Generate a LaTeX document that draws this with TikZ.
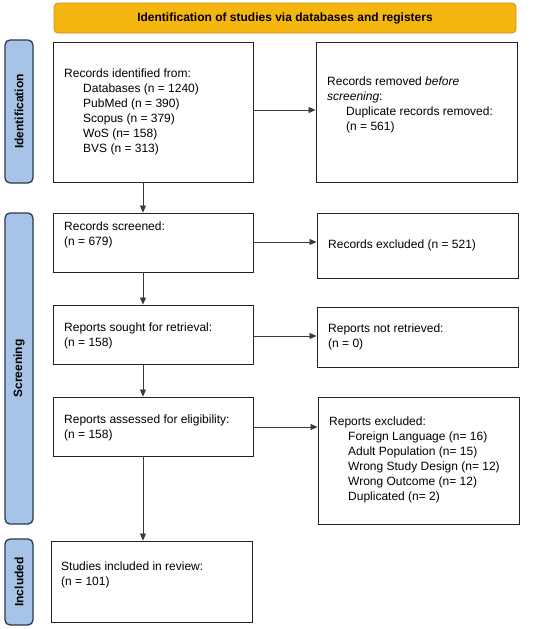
\documentclass[tikz,border=0pt]{standalone}
\usepackage{fontspec}
\setmainfont{Liberation Sans}
\usetikzlibrary{arrows.meta,calc}
\definecolor{bannerfill}{HTML}{F5B60F}
\definecolor{bannerline}{HTML}{C9961A}
\definecolor{sidefill}{HTML}{A7C3E8}
\definecolor{sideline}{HTML}{2B3A4D}
\definecolor{boxline}{HTML}{222222}
\definecolor{arrowline}{HTML}{3A3A3A}
\tikzset{
  banner/.style={draw=bannerline, fill=bannerfill, rounded corners=4pt, line width=0.8pt, inner sep=0pt},
  side/.style={draw=sideline, fill=sidefill, rounded corners=5pt, line width=1.3pt, inner sep=0pt},
  sidetext/.style={rotate=90, font=\fontsize{12}{14}\selectfont\bfseries, text=black},
  box/.style={draw=boxline, line width=0.9pt, inner sep=0pt},
  txt/.style={align=left, font=\fontsize{12}{15}\selectfont, inner sep=0pt, anchor=west, text=black},
  flow/.style={draw=arrowline, line width=0.8pt, -{Triangle[length=7pt,width=6pt]}}
}
\newcommand{\ind}{\hspace*{19pt}}
\begin{document}
\begin{tikzpicture}[x=1pt,y=-1pt]
\useasboundingbox[fill=white] (0,0) rectangle (550,629);
% banner
\node[banner, minimum width=462pt, minimum height=30pt] (ban) at (285,18) {};
\node[font=\fontsize{12}{14}\selectfont\bfseries, inner sep=0pt] (bantxt) at (ban.center) {Identification of studies via databases and registers};
% side bars
\node[side, minimum width=28pt, minimum height=143pt] (sid) at (19,111.5) {};
\node[sidetext] (sidt) at (sid.center) {Identification};
\node[side, minimum width=28pt, minimum height=311pt] (sscr) at (19,368.5) {};
\node[sidetext] (sscrt) at (sscr.center) {Screening};
\node[side, minimum width=28pt, minimum height=86pt] (sinc) at (19,582) {};
\node[sidetext] (sinct) at (sinc.center) {Included};
% left column boxes
\node[box, minimum width=200pt, minimum height=140pt] (b1) at (153,112) {};
\node[txt] (t1) at (64,112) {Records identified from:\\\ind Databases (n = 1240)\\\ind PubMed (n = 390)\\\ind Scopus (n = 379)\\\ind WoS (n= 158)\\\ind BVS (n = 313)};
\node[box, minimum width=200pt, minimum height=59pt] (b3) at (153,242.5) {};
\node[txt] (t3) at (64,234.5) {Records screened:\\(n = 679)};
\node[box, minimum width=200pt, minimum height=59pt] (b5) at (153,334.5) {};
\node[txt] (t5) at (64,335.5) {Reports sought for retrieval:\\(n = 158)};
\node[box, minimum width=200pt, minimum height=59pt] (b7) at (153,426.5) {};
\node[txt] (t7) at (64,427.5) {Reports assessed for eligibility:\\(n = 158)};
\node[box, minimum width=201pt, minimum height=81pt] (b9) at (151.5,581.5) {};
\node[txt] (t9) at (61,575) {Studies included in review:\\(n = 101)};
% right column boxes
\node[box, minimum width=201pt, minimum height=140pt] (b2) at (416.5,112) {};
\node[txt] (t2) at (327,104.5) {Records removed \textit{before}\\\textit{screening}:\\\ind Duplicate records removed:\\\ind (n = 561)};
\node[box, minimum width=201pt, minimum height=65pt] (b4) at (417.5,245.5) {};
\node[txt] (t4) at (328,245.5) {Records excluded (n = 521)};
\node[box, minimum width=201pt, minimum height=60pt] (b6) at (417.5,337) {};
\node[txt] (t6) at (328,336.5) {Reports not retrieved:\\(n = 0)};
\node[box, minimum width=201pt, minimum height=127pt] (b8) at (418.5,460.5) {};
\node[txt] (t8) at (329,460) {Reports excluded:\\\ind Foreign Language (n= 16)\\\ind Adult Population (n= 15)\\\ind Wrong Study Design (n= 12)\\\ind Wrong Outcome (n= 12)\\\ind Duplicated (n= 2)};
% connectors
\draw[flow] (b1.east |- 0,110) -- (b2.west |- 0,110);
\draw[flow] (b3.east |- 0,242) -- (b4.west |- 0,242);
\draw[flow] (b5.east |- 0,336) -- (b6.west |- 0,336);
\draw[flow] (b7.east |- 0,427) -- (b8.west |- 0,427);
\draw[flow] (143,0 |- b1.south) -- (143,0 |- b3.north);
\draw[flow] (143,0 |- b3.south) -- (143,0 |- b5.north);
\draw[flow] (143,0 |- b5.south) -- (143,0 |- b7.north);
\draw[flow] (143,0 |- b7.south) -- (143,0 |- b9.north);
\end{tikzpicture}
\end{document}
